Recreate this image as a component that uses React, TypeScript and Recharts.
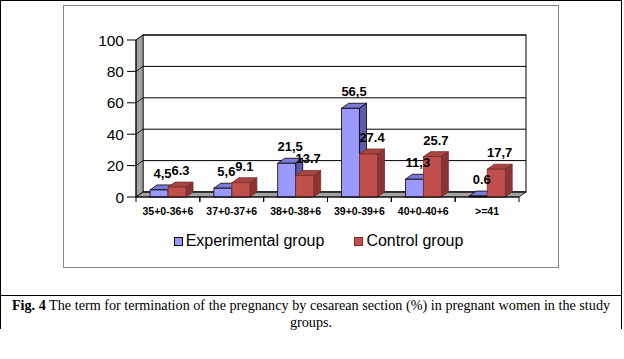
import { BarChart, Bar, XAxis, YAxis, CartesianGrid, Legend, LabelList } from 'recharts'

const categories = ['35+0-36+6', '37+0-37+6', '38+0-38+6', '39+0-39+6', '40+0-40+6', '>=41']
const experimental = [4.5, 5.6, 21.5, 56.5, 11.3, 0.6]
const control = [6.3, 9.1, 13.7, 27.4, 25.7, 17.7]
// labels as printed on the figure (mixed decimal separators)
const experimentalLabels = ['4,5', '5,6', '21,5', '56,5', '11,3', '0.6']
const controlLabels = ['6.3', '9.1', '13.7', '27.4', '25.7', '17,7']
const yTicks = [0, 20, 40, 60, 80, 100]
const seriesNames = ['Experimental group', 'Control group']

const data = categories.map((name, i) => ({
  name,
  experimental: experimental[i],
  control: control[i],
  expLabel: experimentalLabels[i],
  ctlLabel: controlLabels[i],
}))

// 3D depth offset
const DX = 7
const DY = -5

const BLUE = { front: '#9999ff', top: '#7b7bd6', side: '#5c5cae', stroke: '#000' }
const RED = { front: '#c0504d', top: '#a84542', side: '#8a3533', stroke: '#7a2e2c' }

const SANS = 'Arial, "Liberation Sans", sans-serif'
const SERIF = '"Times New Roman", "Liberation Serif", serif'

/**
 * 3D box bar: front face, top face and right side
 */
function makeBar3D(c: { front: string; top: string; side: string; stroke: string }) {
  return function Bar3D(props: any) {
    const { x, y, width, height } = props
    if (x == null || y == null) return <g />
    const w = width
    const h = Math.max(height, 0)
    return (
      <g>
        <polygon
          points={`${x},${y} ${x + w},${y} ${x + w + DX},${y + DY} ${x + DX},${y + DY}`}
          fill={c.top}
          stroke={c.stroke}
          strokeWidth={0.8}
        />
        <polygon
          points={`${x + w},${y} ${x + w + DX},${y + DY} ${x + w + DX},${y + h + DY} ${x + w},${y + h}`}
          fill={c.side}
          stroke={c.stroke}
          strokeWidth={0.8}
        />
        <rect x={x} y={y} width={w} height={h} fill={c.front} stroke={c.stroke} strokeWidth={0.8} />
      </g>
    )
  }
}

// back wall, side wall, floor and grid lines
function GridLine3D(props: any) {
  const { x1, y1, x2, index, x, y, width, height } = props
  return (
    <g key={`g-${index}`}>
      {index === 0 && (
        <g>
          <rect x={x + DX} y={y + DY} width={width} height={height} fill="#ffffff" stroke="#000" strokeWidth={1} />
          <polygon
            points={`${x},${y} ${x + DX},${y + DY} ${x + DX},${y + height + DY} ${x},${y + height}`}
            fill="#a3a3a3"
            stroke="#333"
            strokeWidth={1}
          />
          <polygon
            points={`${x},${y + height} ${x + width},${y + height} ${x + width + DX},${y + height + DY} ${x + DX},${y + height + DY}`}
            fill="#a3a3a3"
            stroke="#333"
            strokeWidth={1}
          />
        </g>
      )}
      <line x1={x1 + DX} y1={y1 + DY} x2={x2 + DX} y2={y1 + DY} stroke="#000" strokeWidth={1} />
      <line x1={x1} y1={y1} x2={x1 + DX} y2={y1 + DY} stroke="#222" strokeWidth={1} />
    </g>
  )
}

function XTick(props: any) {
  const { x, y, payload } = props
  const half = payload?.offset ?? 0
  return (
    <g>
      <line x1={x - half} y1={y} x2={x - half} y2={y + 5} stroke="#000" />
      <line x1={x + half} y1={y} x2={x + half} y2={y + 5} stroke="#000" />
      <text
        x={x}
        y={y + 18}
        textAnchor="middle"
        fontFamily={SANS}
        fontWeight="bold"
        fontSize={10.5}
        fill="#000"
      >
        {payload.value}
      </text>
    </g>
  )
}

function BarLabel(props: any) {
  const vb = props.viewBox || props
  const { x, y, width } = vb
  if (x == null) return null
  return (
    <text
      x={x + width / 2 + DX / 2}
      y={y + DY - 7}
      textAnchor="middle"
      fontFamily={SANS}
      fontWeight="bold"
      fontSize={13}
      fill="#000"
    >
      {props.value}
    </text>
  )
}

function LegendContent() {
  const colors = [BLUE, RED]
  return (
    <div
      style={{
        display: 'flex',
        justifyContent: 'center',
        gap: 30,
        paddingLeft: 13,
        fontFamily: SANS,
        fontSize: 16,
        lineHeight: '18px',
        color: '#000',
      }}
    >
      {seriesNames.map((name, i) => (
        <div key={name} style={{ display: 'flex', alignItems: 'center' }}>
          <span
            style={{
              display: 'inline-block',
              width: 7,
              height: 7,
              background: colors[i].front,
              border: `1px solid ${colors[i].stroke}`,
              marginRight: 3,
            }}
          />
          <span>{name}</span>
        </div>
      ))}
    </div>
  )
}

export default function App() {
  return (
    <div style={{ position: 'absolute', left: 0, top: 0, width: 624, height: 359, background: '#fff' }}>
      {/* outer table frame */}
      <div
        style={{
          position: 'absolute',
          left: 0,
          top: 0,
          width: 620,
          height: 328,
          borderLeft: '1px solid #000',
          borderRight: '1px solid #000',
          borderTop: '1px solid #000',
        }}
      />
      <div style={{ position: 'absolute', left: 0, top: 295, width: 622, height: 1, background: '#000' }} />
      {/* chart area frame */}
      <div
        style={{
          position: 'absolute',
          left: 63,
          top: 5,
          width: 494,
          height: 261,
          border: '1px solid #858585',
        }}
      />
      <div style={{ position: 'absolute', left: 0, top: 0 }}>
        <BarChart
          width={624}
          height={290}
          data={data}
          margin={{ top: 40, right: 105, left: 76, bottom: 63 }}
          barCategoryGap="22%"
          barGap={0}
        >
          <CartesianGrid horizontal={GridLine3D} vertical={false} fill="none" />
          <XAxis
            dataKey="name"
            height={30}
            axisLine={{ stroke: '#000' }}
            tickLine={false}
            tickSize={0}
            tickMargin={0}
            tick={XTick}
            interval={0}
          />
          <YAxis
            width={60}
            domain={[0, 100]}
            ticks={yTicks}
            axisLine={{ stroke: '#000' }}
            tickLine={{ stroke: '#000' }}
            tickSize={9}
            tickMargin={3}
            tick={{ fill: '#000', fontSize: 15.5, fontFamily: SANS }}
          />
          <Legend
            verticalAlign="middle"
            align="center"
            layout="horizontal"
            wrapperStyle={{ top: 232, left: 0, width: 624 }}
            content={LegendContent}
          />
          <Bar
            dataKey="experimental"
            name={seriesNames[0]}
            fill={BLUE.front}
            shape={makeBar3D(BLUE)}
            isAnimationActive={false}
          >
            <LabelList dataKey="expLabel" content={BarLabel} />
          </Bar>
          <Bar
            dataKey="control"
            name={seriesNames[1]}
            fill={RED.front}
            shape={makeBar3D(RED)}
            isAnimationActive={false}
          >
            <LabelList dataKey="ctlLabel" content={BarLabel} />
          </Bar>
        </BarChart>
      </div>
      {/* figure caption */}
      <div
        style={{
          position: 'absolute',
          left: 0,
          top: 297,
          width: 622,
          textAlign: 'center',
          fontFamily: SERIF,
          fontSize: 14.2,
          lineHeight: '17px',
          color: '#000',
        }}
      >
        <b>Fig. 4</b> The term for termination of the pregnancy by cesarean section (%) in pregnant women in the study
        <br />
        groups.
      </div>
    </div>
  )
}
